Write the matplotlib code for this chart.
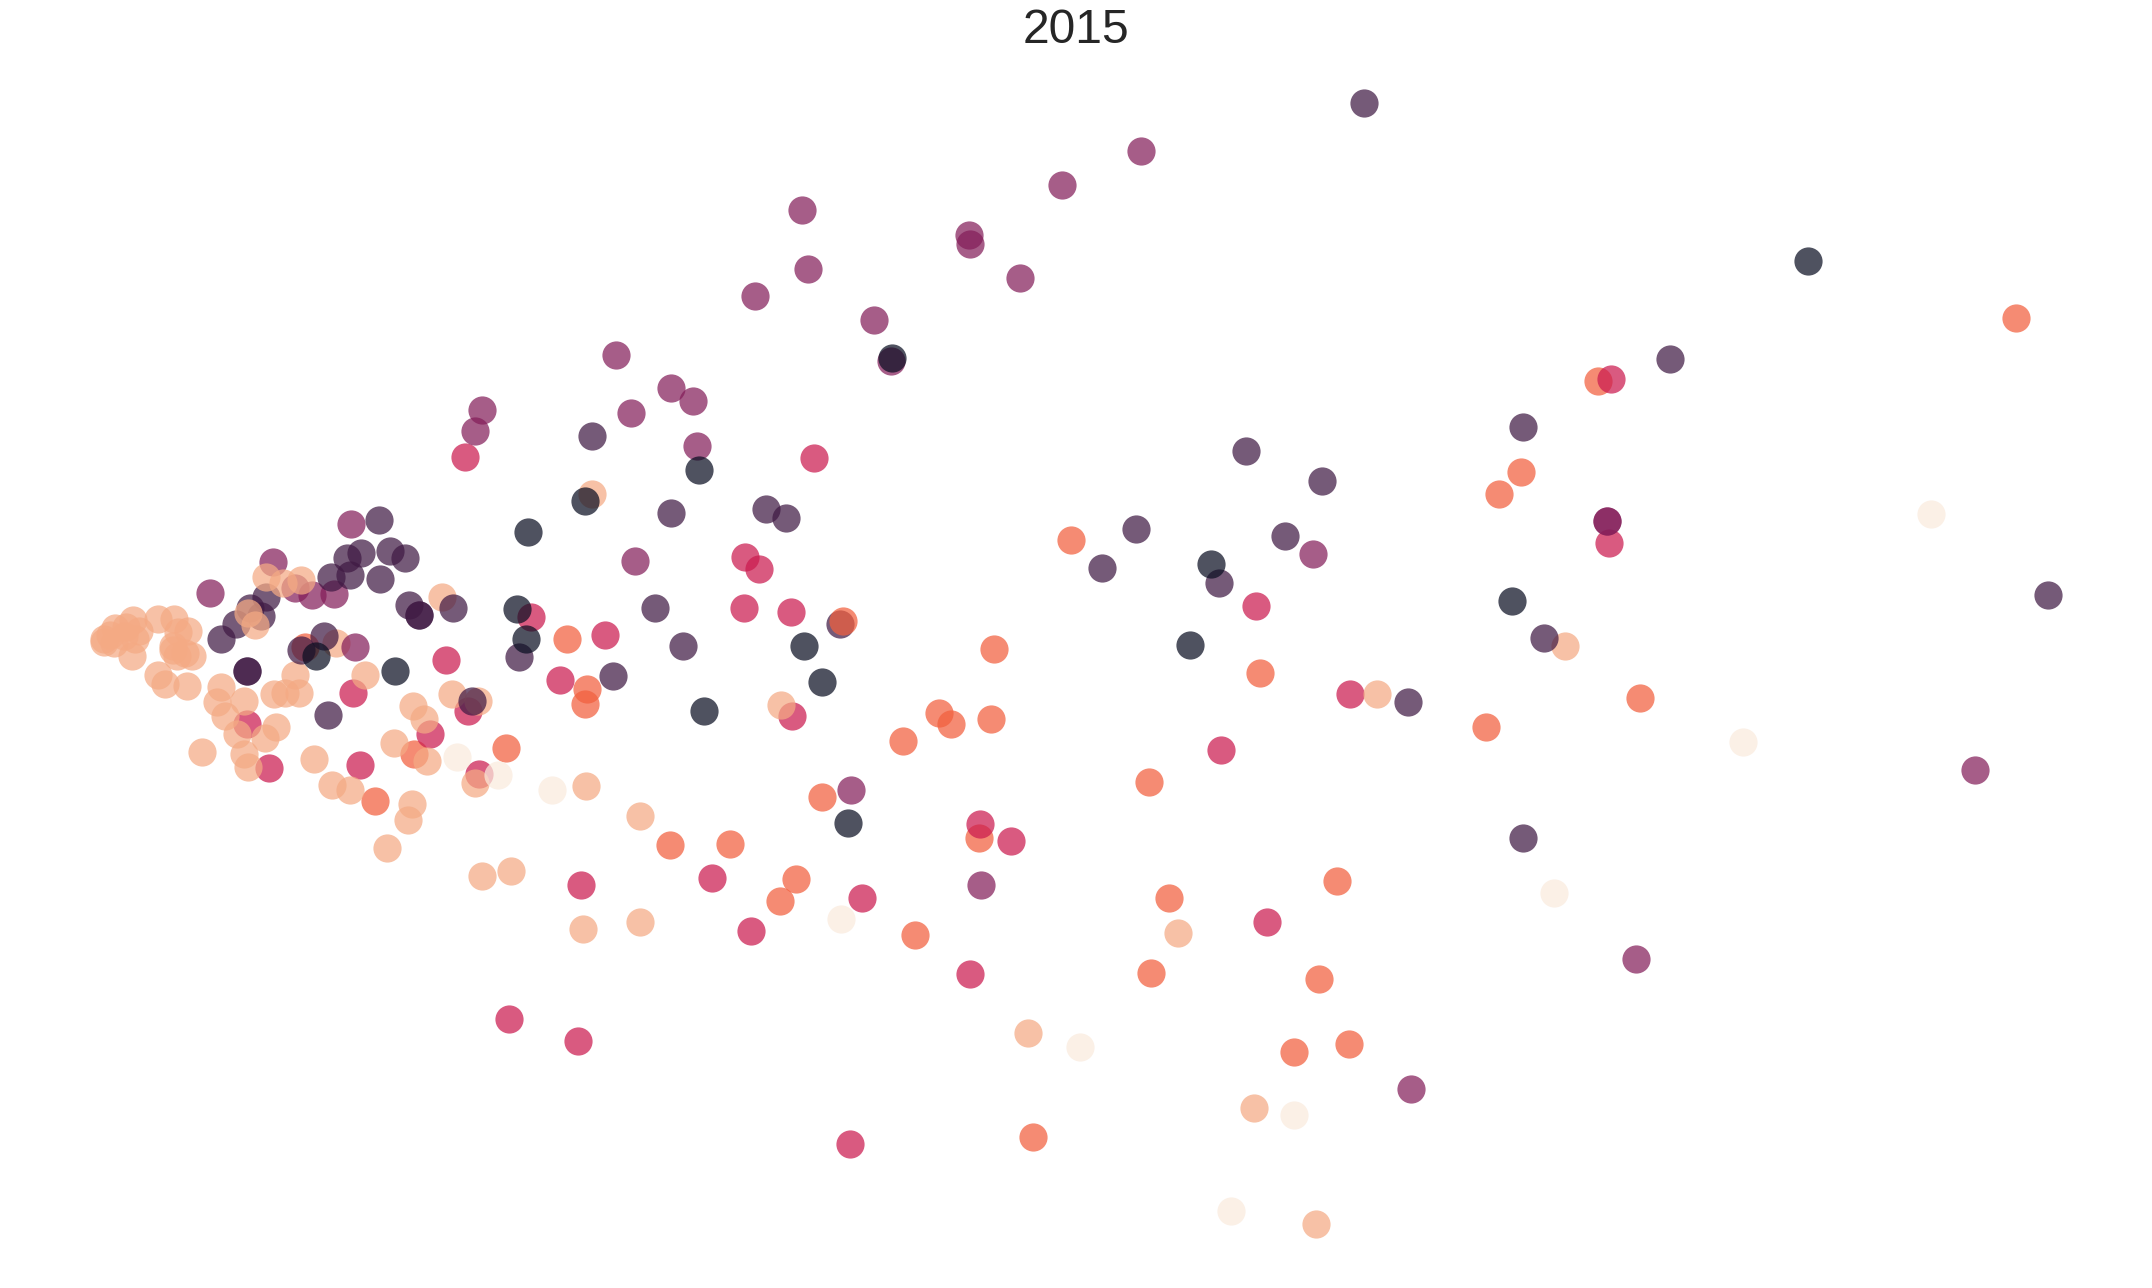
import matplotlib
matplotlib.use('Agg')
import matplotlib.pyplot as plt

# point positions, grouped by colour level
navy = [(1317,190),(650,261),(509,343),(385,388),(426,365),(377,444),(383,466),(288,489),(230,478),
        (513,518),(599,497),(586,471),(618,600),(867,470),(882,411),(1102,438)]
dark = [(276,379),(253,407),(263,403),(284,402),(295,407),(241,421),(255,419),(277,422),(298,441),
        (330,443),(305,448),(305,448),(194,435),(182,443),(190,449),(172,455),(161,466),(236,464),
        (219,474),(239,521),(344,511),(180,489),(180,489),(612,455),
        (994,75),(431,318),(489,374),(558,371),(573,378),(477,443),(498,471),(447,493),(378,479),
        (908,329),(963,351),(936,391),(828,386),(803,414),(888,425),(1110,311),(1217,262),(1026,512),
        (1125,465),(1492,434),(1110,611)]
magenta = [(256,382),(199,410),(153,432),(215,429),(227,434),(243,433),(259,472),
           (351,299),(346,314),(449,259),(460,301),(489,283),(505,292),(508,325),(463,409),(550,216),
           (584,153),(589,196),(637,233),(706,171),(707,178),(743,203),(774,135),(831,110),(649,263),
           (1028,794),(1192,699),(1439,561),(715,645),(620,576),(957,404),(1171,380),(1171,380)]
crimson = [(325,481),(257,505),(341,518),(180,528),(313,535),(262,558),(196,560),(349,564),
           (339,333),(371,743),(421,759),(423,645),(387,450),(408,496),(441,463),(543,406),(553,415),
           (542,443),(576,446),(577,522),(519,640),(547,679),(628,655),(593,334),(714,601),(737,613),
           (707,710),(923,672),(890,547),(915,442),(984,506),(1172,396),(1174,276),(619,834)]
orange = [(222,472),(302,550),(273,584),(1469,232),(1164,278),(1108,344),(1092,360),(780,394),(724,473),
          (918,491),(1195,509),(1083,530),(684,520),(693,528),(722,524),(658,540),(413,466),(428,502),
          (426,513),(369,545),(599,581),(532,615),(488,616),(580,641),(568,657),(667,682),(713,611),
          (852,655),(837,570),(974,642),(839,709),(961,714),(983,761),(943,767),(753,829)]
orange_front = [(614,453)]
peach = [(322,435),(245,469),(215,492),(266,492),(200,506),(208,505),(218,505),(161,501),(158,512),
         (178,511),(164,522),(173,535),(201,530),(193,538),(178,550),(181,559),(147,548),(229,553),
         (242,572),(255,576),(287,542),(311,555),(301,515),(309,524),(329,506),(348,511),(96,478),
         (115,492),(120,499),(136,500),(115,451),(97,452),(127,451),(137,460),(84,458),(92,457),
         (101,460),(76,468),(76,466),(83,469),(130,461),(126,471),(129,478),(140,478),(126,474),
         (135,476),(98,466),(90,464),(80,463),(346,571),(300,586),(297,598),(282,618),(351,639),
         (372,635),(427,573),(431,360),(1003,506),(1140,471),(569,514),(466,595),(425,677),(466,672),
         (749,753),(858,680),(914,808),(959,892)]
peach_front = [(194,421),(206,425),(219,423),(181,447),(186,456)]
light = [(333,552),(363,565),(402,576),(1407,375),(1270,541),(1132,651),(787,763),(613,670),(897,883),(943,813)]

# drawing order matters a little because of the transparency
groups = [
    (orange, '#f25f3d'),
    (crimson, '#cb1b4f'),
    (peach, '#f4aa84'),
    (light, '#faebdd'),
    (magenta, '#841e5a'),
    (dark, '#401a44'),
    (navy, '#0b0f23'),
    (peach_front, '#f4aa84'),
    (orange_front, '#f25f3d'),
]

fig = plt.figure(figsize=(21.52, 12.88), dpi=100)
ax = fig.add_axes([0, 0, 1, 1])
for pts, color in groups:
    xs = [p[0] for p in pts]
    ys = [p[1] for p in pts]
    ax.scatter(xs, ys, s=412, color=color, alpha=0.72, linewidths=0)

ax.set_xlim(0, 1568)
ax.set_ylim(939, 0)
ax.axis('off')

fig.text(0.5, 1 - 43 / 1288, '2015', ha='center', va='baseline', fontsize=34.6,
         family='Liberation Sans', color='#262626')

fig.savefig('out.png', dpi=100)
